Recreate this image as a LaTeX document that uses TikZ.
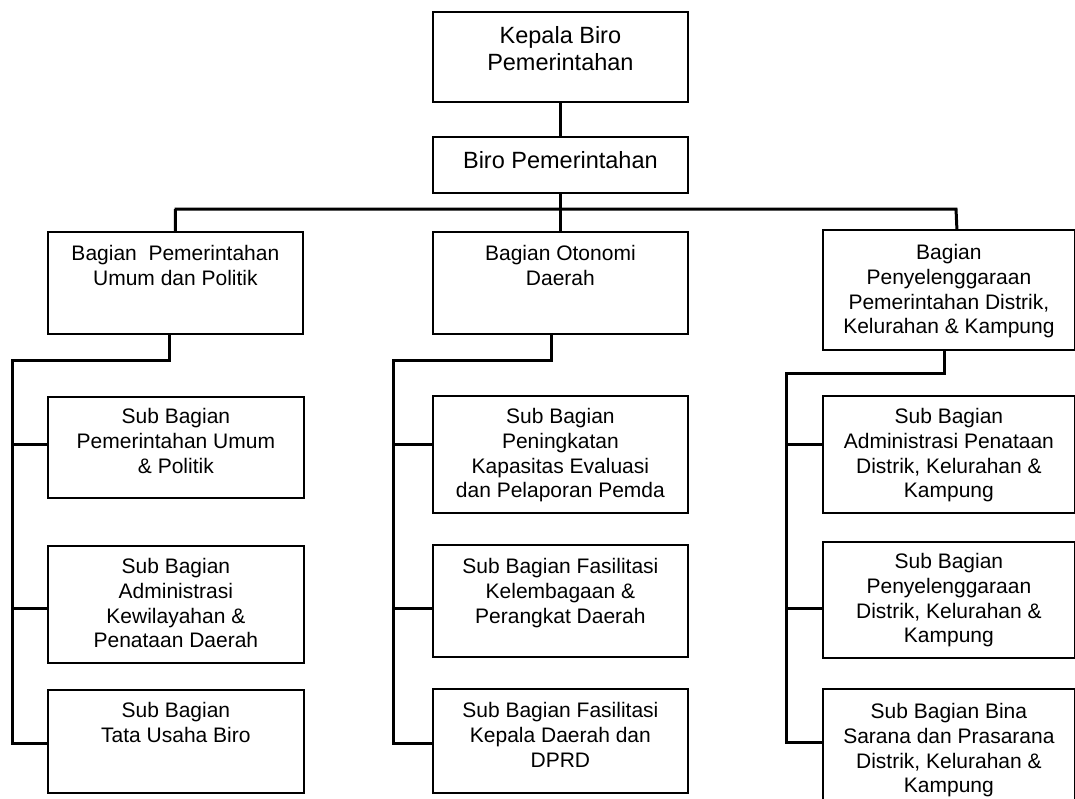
\documentclass[tikz,border=0pt]{standalone}
\usepackage{fontspec}
\setmainfont{Liberation Sans}
\newcommand{\bxt}[4]{\parbox[c][#2pt][t]{#1pt}{\centering\rule{0pt}{#3pt}#4}}
\tikzset{
  orgbox/.style={draw=black, line width=1.8pt, inner sep=0pt, anchor=north west, text=black},
  bigtxt/.style={font=\fontsize{23.5}{27}\selectfont},
  midtxt/.style={font=\fontsize{21}{24.6}\selectfont},
  conn/.style={draw=black, line width=3pt}
}
\begin{document}
\begin{tikzpicture}[x=1pt,y=-1pt]
\useasboundingbox (0,0) rectangle (1075,798);
\clip (0,0) rectangle (1075,798);
\fill[white] (0,0) rectangle (1075,798);

% top level
\node[orgbox,bigtxt] (K) at (432,11) {\bxt{255}{90}{32}{Kepala Biro\\Pemerintahan}};
\node[orgbox,bigtxt] (B) at (432,136) {\bxt{255}{56}{32}{Biro Pemerintahan}};

% second level
\node[orgbox,midtxt] (L) at (47,231) {\bxt{255}{102}{29}{Bagian\ \ Pemerintahan\\Umum dan Politik}};
\node[orgbox,midtxt] (M) at (432,231) {\bxt{255}{102}{29}{Bagian Otonomi\\Daerah}};
\node[orgbox,midtxt] (R) at (822,229) {\bxt{252}{120}{30}{Bagian\\Penyelenggaraan\\Pemerintahan Distrik,\\Kelurahan \& Kampung}};

% sub level left
\node[orgbox,midtxt] (SL1) at (47,396) {\bxt{256}{101}{27}{Sub Bagian\\Pemerintahan Umum\\\& Politik}};
\node[orgbox,midtxt] (SL2) at (47,545) {\bxt{256}{117}{28}{Sub Bagian\\Administrasi\\Kewilayahan \&\\Penataan Daerah}};
\node[orgbox,midtxt] (SL3) at (47,689) {\bxt{256}{103}{28}{Sub Bagian\\Tata Usaha Biro}};

% sub level middle
\node[orgbox,midtxt] (SM1) at (432,395) {\bxt{255}{117}{28}{Sub Bagian\\Peningkatan\\Kapasitas Evaluasi\\dan Pelaporan Pemda}};
\node[orgbox,midtxt] (SM2) at (432,544) {\bxt{255}{112}{29}{Sub Bagian Fasilitasi\\Kelembagaan \&\\Perangkat Daerah}};
\node[orgbox,midtxt] (SM3) at (432,688) {\bxt{255}{104}{29}{Sub Bagian Fasilitasi\\Kepala Daerah dan\\DPRD}};

% sub level right
\node[orgbox,midtxt] (SR1) at (822,395) {\bxt{252}{117}{28}{Sub Bagian\\Administrasi Penataan\\Distrik, Kelurahan \&\\Kampung}};
\node[orgbox,midtxt] (SR2) at (822,541) {\bxt{252}{116}{27}{Sub Bagian\\Penyelenggaraan\\Distrik, Kelurahan \&\\Kampung}};
\node[orgbox,midtxt] (SR3) at (822,688) {\bxt{252}{125}{30}{Sub Bagian Bina\\Sarana dan Prasarana\\Distrik, Kelurahan \&\\Kampung}};

% top connectors
\draw[conn] (K.south) -- (B.north);
\coordinate (busL) at (174.5,209);
\coordinate (busR) at (956,209);
\draw[conn] (B.south) -- (M.north);
\draw[conn] (L.north) |- (busL) -- (busR) -- ([xshift=8]R.north);

% left branch
\coordinate (jL) at (12,360);
\coordinate (tL1) at ([yshift=-48]SL1.north west);
\coordinate (tL2) at ([yshift=-63]SL2.north west);
\coordinate (tL3) at ([yshift=-54]SL3.north west);
\draw[conn] ([xshift=-5.5]L.south) |- (jL) |- (tL3);
\draw[conn] (tL1 -| jL) -- (tL1);
\draw[conn] (tL2 -| jL) -- (tL2);

% middle branch
\coordinate (jM) at (393,360);
\coordinate (tM1) at ([yshift=-49]SM1.north west);
\coordinate (tM2) at ([yshift=-64]SM2.north west);
\coordinate (tM3) at ([yshift=-55]SM3.north west);
\draw[conn] ([xshift=-8.5]M.south) |- (jM) |- (tM3);
\draw[conn] (tM1 -| jM) -- (tM1);
\draw[conn] (tM2 -| jM) -- (tM2);

% right branch
\coordinate (jR) at (786,373);
\coordinate (tR1) at ([yshift=-49]SR1.north west);
\coordinate (tR2) at ([yshift=-67]SR2.north west);
\coordinate (tR3) at ([yshift=-54]SR3.north west);
\draw[conn] ([xshift=-4]R.south) |- (jR) |- (tR3);
\draw[conn] (tR1 -| jR) -- (tR1);
\draw[conn] (tR2 -| jR) -- (tR2);
\end{tikzpicture}
\end{document}
